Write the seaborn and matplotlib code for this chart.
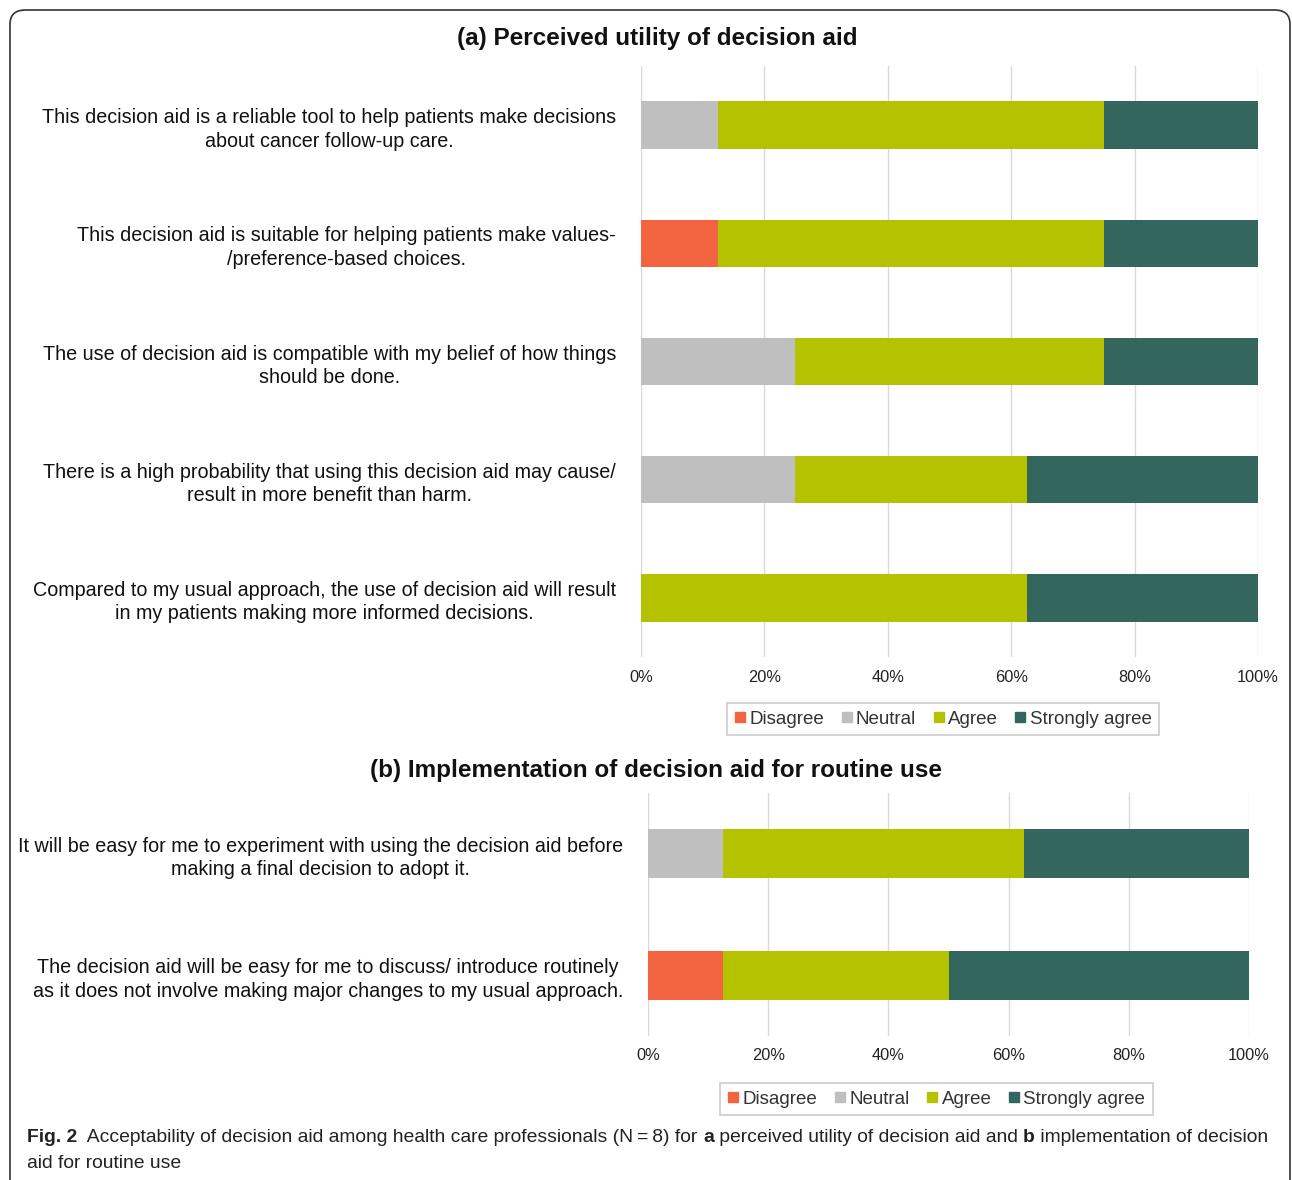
import matplotlib
matplotlib.use("Agg")
import matplotlib.pyplot as plt
import seaborn as sns
import pandas as pd
from matplotlib.lines import Line2D
from matplotlib.patches import FancyBboxPatch
from matplotlib.ticker import PercentFormatter

sns.set_theme(style="white")
plt.rcParams['font.family'] = ['Liberation Sans', 'DejaVu Sans']

categories = ["Disagree", "Neutral", "Agree", "Strongly agree"]
colors = ["#F26440", "#BFBFBF", "#B5C200", "#33665C"]

items_a = [
    "This decision aid is a reliable tool to help patients make decisions\nabout cancer follow-up care.",
    "This decision aid is suitable for helping patients make values-\n/preference-based choices.",
    "The use of decision aid is compatible with my belief of how things\nshould be done.",
    "There is a high probability that using this decision aid may cause/\nresult in more benefit than harm.",
    "Compared to my usual approach, the use of decision aid will result\nin my patients making more informed decisions.",
]
disagree_a = [0, 12.5, 0, 0, 0]
neutral_a = [12.5, 0, 25, 25, 0]
agree_a = [62.5, 62.5, 50, 37.5, 62.5]
strong_a = [25, 25, 25, 37.5, 37.5]

items_b = [
    "It will be easy for me to experiment with using the decision aid before\nmaking a final decision to adopt it.",
    "The decision aid will be easy for me to discuss/ introduce routinely\nas it does not involve making major changes to my usual approach.",
]
disagree_b = [0, 12.5]
neutral_b = [12.5, 0]
agree_b = [50, 37.5]
strong_b = [37.5, 50]

W, H = 1292, 1180
fig = plt.figure(figsize=(W / 100, H / 100), dpi=100)


def fx(px):
    return px / W


def fy(py):
    return 1 - py / H


def panel(ax, items, d, n, a, s, pad):
    df = pd.DataFrame({"item": items, "Disagree": d, "Neutral": n,
                       "Agree": a, "Strongly agree": s})
    cum = df[categories].cumsum(axis=1)
    for cat, col in reversed(list(zip(categories, colors))):
        sns.barplot(x=cum[cat], y=df["item"], orient="h", color=col,
                    saturation=1, width=0.4, linewidth=0, ax=ax)
    ax.set_xlim(0, 100)
    ax.set_xticks([0, 20, 40, 60, 80, 100])
    ax.xaxis.set_major_formatter(PercentFormatter(decimals=0))
    ax.grid(axis="x", color="#D9D9D9", linewidth=1)
    ax.set_axisbelow(True)
    for sp in ax.spines.values():
        sp.set_visible(False)
    ax.set_xlabel("")
    ax.set_ylabel("")
    ax.tick_params(axis="x", length=0, labelsize=11.8, pad=9, labelcolor="#222222")
    ax.tick_params(axis="y", length=0, labelsize=14.2, pad=pad, labelcolor="#111111")
    for t in ax.get_yticklabels():
        t.set_multialignment("center")
        t.set_linespacing(1.3)


axA = fig.add_axes([fx(641), fy(657), fx(1258 - 641), (657 - 66) / H])
panel(axA, items_a, disagree_a, neutral_a, agree_a, strong_a, 18)
axA.set_ylim(4.5, -0.5)

axB = fig.add_axes([fx(648), fy(1036), fx(1249 - 648), (1036 - 793) / H])
panel(axB, items_b, disagree_b, neutral_b, agree_b, strong_b, 18)
axB.set_ylim(1.5, -0.5)

fig.text(fx(657), fy(38), "(a) Perceived utility of decision aid",
         ha="center", va="center", fontsize=17.5, fontweight="bold", color="#111111")
fig.text(fx(656), fy(771), "(b) Implementation of decision aid for routine use",
         ha="center", va="center", fontsize=17.5, fontweight="bold", color="#111111")

handles = [Line2D([], [], marker="s", linestyle="none", markersize=7,
                  markerfacecolor=c, markeredgecolor=c) for c in colors]


def add_legend(cx, cy):
    leg = fig.legend(handles, categories, loc="center",
                     bbox_to_anchor=(fx(cx), fy(cy)), ncol=4, frameon=True,
                     fancybox=False, edgecolor="#BFBFBF", fontsize=13.5,
                     handlelength=0.6, handletextpad=0.2, columnspacing=0.9,
                     borderpad=0.4, labelcolor="#333333")
    leg.get_frame().set_linewidth(1.2)
    return leg


add_legend((725 + 1161) / 2, 719)
add_legend((718 + 1155) / 2, 1099)

border = FancyBboxPatch((fx(10), -0.05), fx(1290 - 10), fy(10) + 0.05,
                        boxstyle="round,pad=0,rounding_size=0.012",
                        transform=fig.transFigure, fill=False,
                        edgecolor="#333333", linewidth=1.2)
fig.add_artist(border)

# caption with mixed weights
cap_font = ['Liberation Sans Narrow', 'Liberation Sans', 'DejaVu Sans']
pieces = [("Fig. 2", "bold"),
          ("  Acceptability of decision aid among health care professionals (N\u2009=\u20098) for ", "normal"),
          ("a", "bold"),
          (" perceived utility of decision aid and ", "normal"),
          ("b", "bold"),
          (" implementation of decision", "normal")]
fig.canvas.draw()
renderer = fig.canvas.get_renderer()
x = fx(27)
y1 = fy(1137)
for txt, wt in pieces:
    t = fig.text(x, y1, txt, ha="left", va="center", fontsize=13.9,
                 fontweight=wt, family=cap_font, color="#222222")
    bb = t.get_window_extent(renderer)
    x += bb.width / W
fig.text(fx(27), fy(1163), "aid for routine use", ha="left", va="center",
         fontsize=13.9, family=cap_font, color="#222222")

fig.savefig("out.png", dpi=100, facecolor="white")
